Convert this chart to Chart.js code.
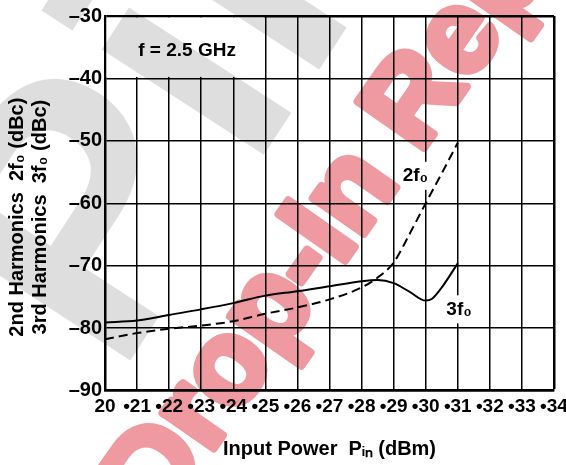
<!DOCTYPE html>
<html><head><meta charset="utf-8">
<style>html,body{margin:0;padding:0;background:#fff;}#wrap{width:566px;height:465px;position:relative;}</style>
<script src="https://cdn.jsdelivr.net/npm/chart.js@4/dist/chart.umd.min.js"></script>
</head><body><div id="wrap"><canvas id="c"></canvas></div>
<script>
// ---- data ----
const xPower2f = [20, 21, 22, 23, 24, 25, 26, 27, 28, 28.5, 29, 29.5, 30, 30.5, 31];
const harm2f   = [-81.8, -80.8, -80.1, -79.6, -78.9, -77.7, -76.7, -75.4, -73.5, -71.9, -69.5, -64.9, -60.0, -55.2, -50.3];
const xPower3f = [20, 21, 22, 23, 24, 25, 26, 27, 28, 28.5, 29, 29.5, 30, 30.2, 30.5, 30.75, 31];
const harm3f   = [-79.1, -78.8, -77.9, -77.0, -76.0, -74.8, -74.1, -73.3, -72.5, -72.3, -72.8, -74.2, -75.6, -75.3, -73.5, -71.6, -69.6];
const xTickLabels = ['20','•21','•22','•23','•24','•25','•26','•27','•28','•29','•30','•31','•32','•33','•34'];
const yTickLabels = ['–90','–80','–70','–60','–50','–40','–30'];
const noteTexts = ['f = 2.5 GHz', '2f₀', '3f₀'];
const noteX = [22.56, 29.68, 31.04];
const noteY = [-35.5, -55.6, -77.0];
const watermarkTexts = ['Pin', 'Drop-In Replacement'];

const FONT = '"Liberation Sans", Arial, Helvetica, sans-serif';
Chart.defaults.font.family = FONT;
Chart.defaults.font.weight = 'bold';
Chart.defaults.color = '#000';

const pts = (xs, ys) => xs.map((v, i) => ({x: v, y: ys[i]}));

const plugin = {
  id: 'extras',
  beforeDraw(chart) {
    const ctx = chart.ctx;
    ctx.save(); ctx.fillStyle = '#fff'; ctx.fillRect(0, 0, chart.width, chart.height); ctx.restore();
  },
  beforeDatasetsDraw(chart) {
    const {ctx, scales: {x, y}} = chart;
    ctx.save();
    ctx.fillStyle = '#fff';
    const x0 = x.getPixelForValue(20), x1 = x.getPixelForValue(25);
    const y0 = y.getPixelForValue(-30), y1 = y.getPixelForValue(-40);
    ctx.fillRect(x0 + 1.5, y0 + 1.5, x1 - x0 - 3, y1 - y0 - 3);
    ctx.font = 'bold 19px ' + FONT;
    ctx.textAlign = 'center'; ctx.textBaseline = 'middle';
    noteTexts.forEach((t, i) => {
      const px = x.getPixelForValue(noteX[i]), py = y.getPixelForValue(noteY[i]);
      if (i > 0) {
        const w = ctx.measureText(t).width;
        ctx.fillStyle = '#fff';
        ctx.fillRect(px - w / 2 - 2, py - 14, w + 4, 28);
      }
      ctx.fillStyle = '#000';
      ctx.fillText(t, px, py);
    });
    ctx.restore();
  },
  afterDraw(chart) {
    const ctx = chart.ctx;
    ctx.save();
    ctx.globalCompositeOperation = 'multiply';
    // gray watermark
    ctx.save();
    ctx.translate(117, 381);
    ctx.rotate(-57 * Math.PI / 180);
    ctx.font = 'bold 366px ' + FONT;
    ctx.fillStyle = '#dedede';
    ctx.textBaseline = 'alphabetic';
    ctx.fillText(watermarkTexts[0], 0, 0);
    ctx.restore();
    ctx.restore();
    // red watermark (offscreen layer so the thickening stroke does not double up)
    const off = document.createElement('canvas');
    off.width = chart.width; off.height = chart.height;
    const o = off.getContext('2d');
    o.translate(160, 525);
    o.rotate(-55 * Math.PI / 180);
    o.font = 'bold 118px ' + FONT;
    o.fillStyle = '#ef9aa0'; o.strokeStyle = '#ef9aa0';
    o.lineWidth = 8; o.lineJoin = 'round';
    o.fillText(watermarkTexts[1], 0, 0);
    o.strokeText(watermarkTexts[1], 0, 0);
    ctx.save();
    ctx.globalCompositeOperation = 'multiply';
    ctx.drawImage(off, 0, 0);
    ctx.restore();
  }
};

new Chart(document.getElementById('c'), {
  type: 'line',
  data: {
    datasets: [
      { label: '2f0', data: pts(xPower2f, harm2f), borderColor: '#000', borderWidth: 2,
        borderDash: [9, 5], pointRadius: 0, cubicInterpolationMode: 'monotone', fill: false },
      { label: '3f0', data: pts(xPower3f, harm3f), borderColor: '#000', borderWidth: 2,
        pointRadius: 0, cubicInterpolationMode: 'monotone', fill: false }
    ]
  },
  options: {
    responsive: true, maintainAspectRatio: false, animation: false,
    layout: { padding: { top: 16, right: 12, left: 0, bottom: 0 } },
    plugins: { legend: { display: false }, tooltip: { enabled: false } },
    scales: {
      x: {
        type: 'linear', min: 20, max: 34,
        afterFit(s) { s.height = 74.5; s.paddingLeft = 0; s.paddingRight = 0; },
        ticks: { stepSize: 1, autoSkip: false, maxRotation: 0, minRotation: 0, padding: 5,
          color: '#000', font: { size: 19, weight: 'bold' }, callback: (v, i) => xTickLabels[i] },
        grid: { color: '#000', lineWidth: c => (c.tick && c.tick.value === 34) ? 2.5 : 1.5, drawTicks: false },
        border: { display: true, color: '#000', width: 2.5 },
        title: { display: true, text: 'Input Power  Pᵢₙ (dBm)', color: '#000', font: { size: 20, weight: 'bold' }, padding: { top: 0, bottom: 4 } }
      },
      y: {
        type: 'linear', min: -90, max: -30,
        afterFit(s) { s.width = 105; s.paddingTop = 0; s.paddingBottom = 0; },
        ticks: { stepSize: 10, padding: 3, color: '#000', font: { size: 20, weight: 'bold' }, callback: (v, i) => yTickLabels[i] },
        grid: { color: '#000', lineWidth: c => (c.tick && c.tick.value === -30) ? 2.5 : 1.5, drawTicks: false },
        border: { display: true, color: '#000', width: 2.5 },
        title: { display: true, text: ['2nd Harmonics  2f₀ (dBc)     ', '3rd Harmonics  3f₀ (dBc)     '], color: '#000',
          font: { size: 20, weight: 'bold', lineHeight: 1.15 }, padding: { top: 6, bottom: 0 } }
      }
    }
  },
  plugins: [plugin]
});
</script></body></html>
